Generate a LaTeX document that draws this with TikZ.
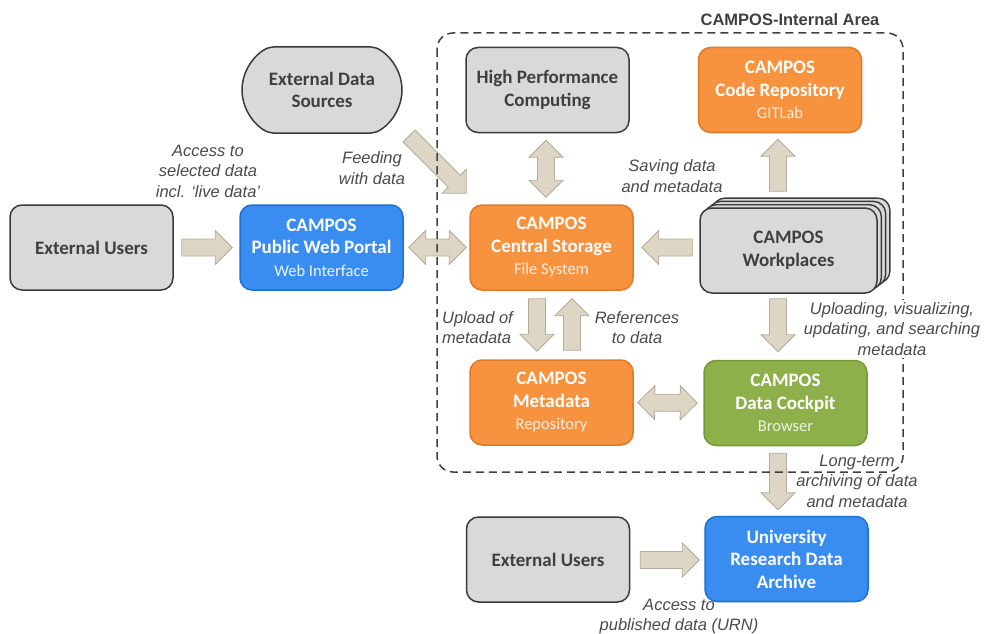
\documentclass[tikz,border=0pt]{standalone}
\usepackage{fontspec}
\setmainfont{Carlito}
\newfontfamily\lblfont{Liberation Sans}
\usetikzlibrary{calc,shapes.misc}

\definecolor{boxgray}{HTML}{D9D9D9}
\definecolor{edgegray}{HTML}{3A3A3A}
\definecolor{txtgray}{HTML}{3F3F3F}
\definecolor{orfill}{HTML}{F7923F}
\definecolor{oredge}{HTML}{E07A28}
\definecolor{blfill}{HTML}{3A8DF0}
\definecolor{bledge}{HTML}{1F6FD6}
\definecolor{grfill}{HTML}{8DB04B}
\definecolor{gredge}{HTML}{769838}
\definecolor{arfill}{HTML}{DDD6C4}
\definecolor{aredge}{HTML}{B3AB9A}
\definecolor{lbl}{HTML}{4A4A4A}
\definecolor{framecol}{HTML}{404040}

% block arrow geometry
\def\arsw{8.5pt}
\def\arhw{17pt}
\def\arhl{17pt}

% single-headed block arrow from #1 to #2
\newcommand\blockone[2]{%
  \coordinate (ha) at ($(#2)!\arhl!(#1)$);
  \draw[blockarrow] ($(#1)!\arsw!90:(#2)$) -- ($(ha)!\arsw!90:(#2)$)
    -- ($(ha)!\arhw!90:(#2)$) -- (#2) -- ($(ha)!\arhw!-90:(#2)$)
    -- ($(ha)!\arsw!-90:(#2)$) -- ($(#1)!\arsw!-90:(#2)$) -- cycle;}

% double-headed block arrow between #1 and #2
\newcommand\blocktwo[2]{%
  \coordinate (ha) at ($(#2)!\arhl!(#1)$);
  \coordinate (hb) at ($(#1)!\arhl!(#2)$);
  \draw[blockarrow] (#1) -- ($(hb)!\arhw!90:(#2)$) -- ($(hb)!\arsw!90:(#2)$)
    -- ($(ha)!\arsw!90:(#2)$) -- ($(ha)!\arhw!90:(#2)$) -- (#2)
    -- ($(ha)!\arhw!-90:(#2)$) -- ($(ha)!\arsw!-90:(#2)$)
    -- ($(hb)!\arsw!-90:(#2)$) -- ($(hb)!\arhw!-90:(#2)$) -- cycle;}

\newcommand\subline[1]{{\mdseries\fontsize{16.5}{22.5}\selectfont #1}}

\tikzset{
  box/.style={rounded corners=12pt, line width=1.5pt, minimum width=163pt,
    minimum height=85pt, align=center, inner sep=2pt,
    font=\bfseries\fontsize{19}{22.5}\selectfont},
  graybox/.style={box, fill=boxgray, draw=edgegray, text=txtgray},
  orbox/.style={box, fill=orfill, draw=oredge, text=white},
  blbox/.style={box, fill=blfill, draw=bledge, text=white},
  grbox/.style={box, fill=grfill, draw=gredge, text=white},
  blockarrow/.style={fill=arfill, draw=aredge, line width=0.8pt, line join=miter},
  note/.style={font=\lblfont\itshape\fontsize{16.5}{20.5}\selectfont, text=lbl,
    align=center, inner sep=1pt},
  areaframe/.style={draw=framecol, line width=1.5pt, dash pattern=on 8pt off 5pt,
    rounded corners=16pt},
}

\begin{document}
\begin{tikzpicture}[x=1pt,y=-1pt]
\useasboundingbox (0,0) rectangle (985,634);

% boxes
\node[graybox] (eu1) at (91.5,247.5) {External Users};
\node[blbox] (portal) at (321.5,247.5) {CAMPOS\\Public Web Portal\\\subline{\color{white!90!blfill}Web Interface}};
\node[graybox, rounded rectangle, rounded rectangle arc length=180, minimum width=164pt, minimum height=86pt] (eds) at (322,90) {External Data\\Sources};
\node[graybox] (hpc) at (547.5,90) {High Performance\\Computing};
\node[orbox] (code) at (780,90) {CAMPOS\\Code Repository\\\subline{\color{white!85!orfill}GITLab}};
\node[orbox] (storage) at (551.5,247.5) {CAMPOS\\Central Storage\\\subline{\color{white!85!orfill}File System}};
\foreach \k in {3,2,1}
  \node[graybox, minimum width=177pt, line width=1.4pt] (work\k) at ($(788.5,250.5)+(4.3*\k,-3.3*\k)$) {};
\node[graybox, minimum width=177pt] (work) at (788.5,250.5) {CAMPOS\\Workplaces};
\node[orbox] (meta) at (551.5,402.5) {CAMPOS\\Metadata\\\subline{\color{white!85!orfill}Repository}};
\node[grbox] (cockpit) at (785.5,403) {CAMPOS\\Data Cockpit\\\subline{\color{white!85!grfill}Browser}};
\node[graybox] (eu2) at (548,559.5) {External Users};
\node[blbox] (archive) at (786.5,559) {University\\Research Data\\Archive};

% connector end points
\coordinate (a1s) at ($(eu1.east)+(8,0)$);
\coordinate (a1e) at ($(portal.west)+(-7,0)$);
\coordinate (a2s) at ($(portal.east)+(5,0)$);
\coordinate (a2e) at ($(storage.west)+(-3,0)$);
\coordinate (a3s) at ($(eds.center)+(87,46)$);
\coordinate (a3e) at ($(storage.north west)+(-3,-11)$);
\coordinate (a4s) at ($(hpc.south)+(-1.5,7)$);
\coordinate (a4e) at ($(storage.north)+(-5.5,-7)$);
\coordinate (a5s) at ($(work.west)+(-7,-3)$);
\coordinate (a5e) at ($(storage.east)+(8,0)$);
\coordinate (a6s) at ($(work.north)+(-10.5,-16)$);
\coordinate (a6e) at ($(code.south)+(-2,6)$);
\coordinate (a7s) at ($(storage.south)+(-14.5,8)$);
\coordinate (a7e) at ($(meta.north)+(-14.5,-8)$);
\coordinate (a8s) at ($(meta.north)+(20.5,-9)$);
\coordinate (a8e) at ($(storage.south)+(20.5,8)$);
\coordinate (a9s) at ($(meta.east)+(4,0)$);
\coordinate (a9e) at ($(cockpit.west)+(-6,0)$);
\coordinate (a10s) at ($(work.south)+(-10.5,5)$);
\coordinate (a10e) at ($(cockpit.north)+(-7.5,-8)$);
\coordinate (a11s) at ($(cockpit.south)+(-7.5,7)$);
\coordinate (a11e) at ($(archive.north)+(-8.5,-6)$);
\coordinate (a12s) at ($(eu2.east)+(10,0.5)$);
\coordinate (a12e) at ($(archive.west)+(-5,1)$);

% block arrows
\blockone{a1s}{a1e}
\blocktwo{a2s}{a2e}
\blockone{a3s}{a3e}
\blocktwo{a4s}{a4e}
\blockone{a5s}{a5e}
\blockone{a6s}{a6e}
\blockone{a7s}{a7e}
\blockone{a8s}{a8e}
\blocktwo{a9s}{a9e}
\blockone{a10s}{a10e}
\blockone{a11s}{a11e}
\blockone{a12s}{a12e}

% internal area
\draw[areaframe] (437,33) rectangle (903,472);
\node[font=\lblfont\bfseries\fontsize{16.5}{20}\selectfont, text=txtgray] (areatitle) at (790,20) {CAMPOS-Internal Area};

% connector labels
\node[note] (l1) at (208,171) {Access to\\selected data\\incl. ‘live data’};
\node[note] (l2) at (372,168) {Feeding\\with data};
\node[note] (l3) at (672,176) {Saving data\\and metadata};
\node[note, align=left, anchor=west] (l4) at (441,327.5) {Upload of\\metadata};
\node[note] (l5) at (637,327.5) {References\\to data};
\node[note, fill=white, inner sep=2pt] (l6) at (892,329) {Uploading, visualizing,\\updating, and searching\\metadata};
\node[note] (l7) at (857,481) {Long-term\\archiving of data\\and metadata};
\node[note] (l8) at (679,616.5) {Access to\\published data (URN)};
\end{tikzpicture}
\end{document}
